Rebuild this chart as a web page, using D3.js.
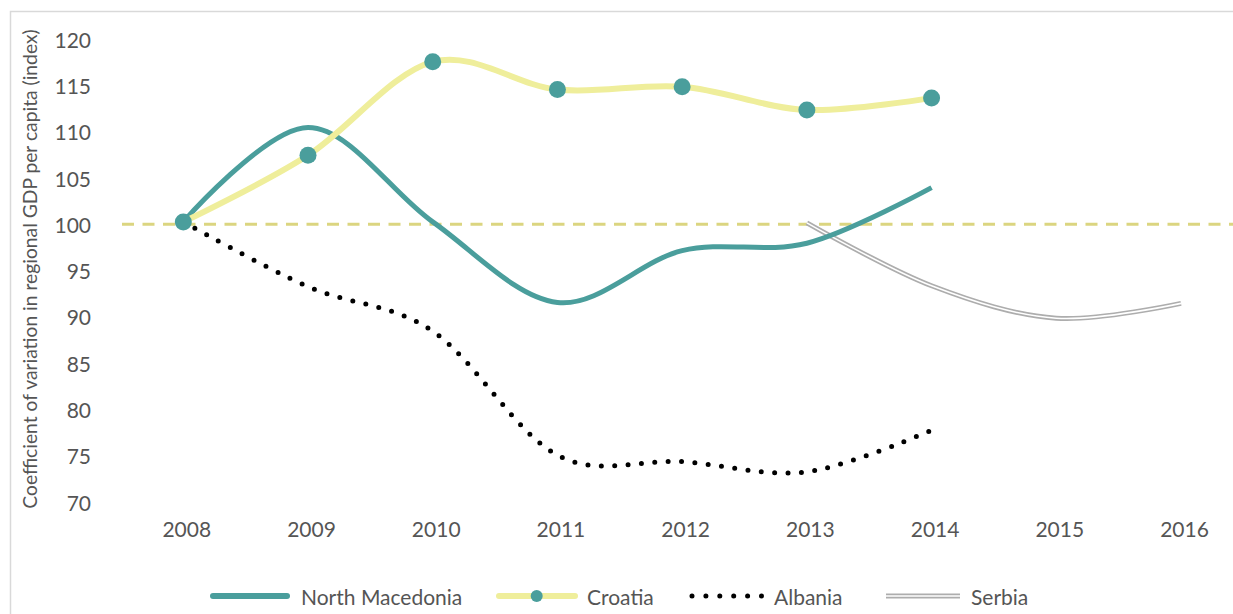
<!DOCTYPE html>
<html>
<head>
<meta charset="utf-8">
<script src="https://cdn.jsdelivr.net/npm/d3@7"></script>
<style>
  body { margin: 0; background: #fff; }
  text { font-family: Lato, "Open Sans", sans-serif; fill: #555; }
</style>
</head>
<body>
<svg id="chart" width="1233" height="614"></svg>
<script>
// data
const years = [2008, 2009, 2010, 2011, 2012, 2013, 2014, 2015, 2016];
const yTicks = [70, 75, 80, 85, 90, 95, 100, 105, 110, 115, 120];
const macedonia = [100.4, 110.6, 100.4, 91.7, 97.3, 98.1, 104.1];
const croatia = [100.4, 107.6, 117.7, 114.7, 115.0, 112.5, 113.8];
const albania = [100.4, 93.4, 88.6, 75.2, 74.5, 73.4, 77.9];
const serbiaYears = [2013, 2014, 2015, 2016];
const serbia = [100.3, 93.5, 90.0, 91.6];
const baseline = 100.15;

const svg = d3.select("#chart");

// outer frame (runs off the page at right and bottom)
svg.append("rect").attr("x", 10.5).attr("y", 11.5).attr("width", 1240).attr("height", 620)
  .attr("fill", "none").attr("stroke", "#d9d9d9").attr("stroke-width", 1.5);

const x = d3.scaleLinear().domain([2008, 2016]).range([183.3, 1181]);
const y = d3.scaleLinear().domain([70, 120]).range([503.3, 40.5]);

// y axis labels
const yAxis = d3.axisLeft(y).tickValues(yTicks).tickSize(0).tickPadding(0);
const gy = svg.append("g").attr("transform", "translate(91,0)").call(yAxis);
gy.select(".domain").remove();
gy.selectAll("text").attr("font-size", 21).attr("fill", "#555")
  .style("font-family", "Lato, 'Open Sans', sans-serif");

// x axis labels
const xAxis = d3.axisBottom(x).tickValues(years).tickFormat(d3.format("d")).tickSize(0).tickPadding(0);
const gx = svg.append("g").attr("transform", "translate(3,522)").call(xAxis);
gx.select(".domain").remove();
gx.selectAll("text").attr("font-size", 21).attr("fill", "#555")
  .style("font-family", "Lato, 'Open Sans', sans-serif");

// axis title
svg.append("text")
  .attr("transform", "translate(29,269) rotate(-90)")
  .attr("text-anchor", "middle").attr("dominant-baseline", "central")
  .attr("font-size", 19.3)
  .text("Coefficient of variation in regional GDP per capita (index)");

// dashed 100 line
svg.append("line")
  .attr("x1", 122).attr("x2", 1233).attr("y1", y(baseline)).attr("y2", y(baseline))
  .attr("stroke", "#dbd580").attr("stroke-width", 3).attr("stroke-dasharray", "12,8.5");

const curve = d3.curveCatmullRom.alpha(0);
const line = d3.line().x(d => x(d[0])).y(d => y(d[1])).curve(curve);
const pairs = (ys, vs) => ys.map((yr, i) => [yr, vs[i]]).filter(d => d[1] != null);

// Serbia: double line
const serbiaPath = line(pairs(serbiaYears, serbia));
svg.append("path").attr("d", serbiaPath).attr("fill", "none")
  .attr("stroke", "#adadad").attr("stroke-width", 5);
svg.append("path").attr("d", serbiaPath).attr("fill", "none")
  .attr("stroke", "#fff").attr("stroke-width", 1.6);

// Albania: round dots
svg.append("path").attr("d", line(pairs(years, albania))).attr("fill", "none")
  .attr("stroke", "#000").attr("stroke-width", 5)
  .attr("stroke-linecap", "round").attr("stroke-dasharray", "0,13.4");

// North Macedonia
svg.append("path").attr("d", line(pairs(years, macedonia))).attr("fill", "none")
  .attr("stroke", "#4a9e9c").attr("stroke-width", 5);

// Croatia
svg.append("path").attr("d", line(pairs(years, croatia))).attr("fill", "none")
  .attr("stroke", "#efee9b").attr("stroke-width", 6);
svg.selectAll("circle.cro").data(pairs(years, croatia)).enter().append("circle")
  .attr("class", "cro")
  .attr("cx", d => x(d[0])).attr("cy", d => y(d[1])).attr("r", 8.5)
  .attr("fill", "#4a9e9c");

// legend
const ly = 596;
const legend = svg.append("g");
legend.append("line").attr("x1", 213).attr("x2", 287).attr("y1", ly).attr("y2", ly)
  .attr("stroke", "#4a9e9c").attr("stroke-width", 6).attr("stroke-linecap", "round");
legend.append("text").attr("x", 301).attr("y", ly).attr("dominant-baseline", "central")
  .attr("font-size", 21).text("North Macedonia");

legend.append("line").attr("x1", 499).attr("x2", 575).attr("y1", ly).attr("y2", ly)
  .attr("stroke", "#efee9b").attr("stroke-width", 6).attr("stroke-linecap", "round");
legend.append("circle").attr("cx", 536.7).attr("cy", ly).attr("r", 6).attr("fill", "#4a9e9c");
legend.append("text").attr("x", 587).attr("y", ly).attr("dominant-baseline", "central")
  .attr("font-size", 21).text("Croatia");

legend.append("line").attr("x1", 692).attr("x2", 762).attr("y1", ly).attr("y2", ly)
  .attr("stroke", "#000").attr("stroke-width", 5)
  .attr("stroke-linecap", "round").attr("stroke-dasharray", "0,13.9");
legend.append("text").attr("x", 774).attr("y", ly).attr("dominant-baseline", "central")
  .attr("font-size", 21).text("Albania");

legend.append("line").attr("x1", 886).attr("x2", 960).attr("y1", ly).attr("y2", ly)
  .attr("stroke", "#adadad").attr("stroke-width", 5);
legend.append("line").attr("x1", 886).attr("x2", 960).attr("y1", ly).attr("y2", ly)
  .attr("stroke", "#fff").attr("stroke-width", 1.6);
legend.append("text").attr("x", 971).attr("y", ly).attr("dominant-baseline", "central")
  .attr("font-size", 21).text("Serbia");
</script>
</body>
</html>
